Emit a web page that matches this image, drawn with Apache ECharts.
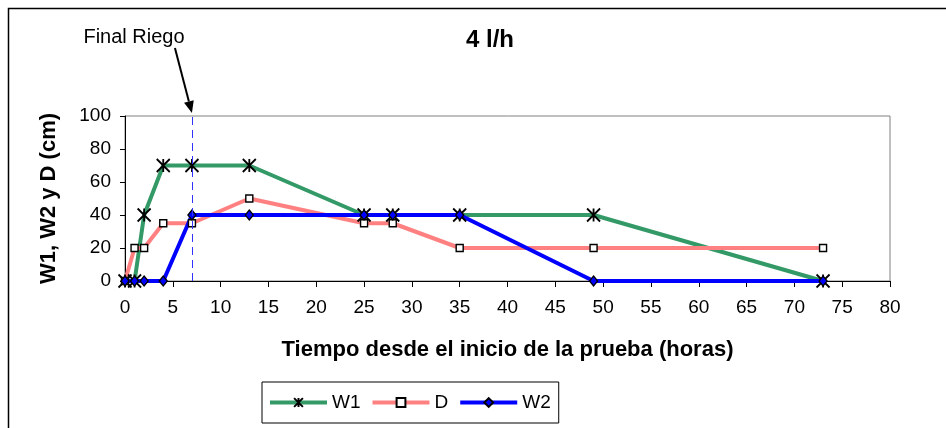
<!DOCTYPE html>
<html>
<head>
<meta charset="utf-8">
<script src="https://cdn.jsdelivr.net/npm/echarts@6/dist/echarts.min.js"></script>
<style>
  html, body { margin: 0; padding: 0; background: #fff; }
  #chart { width: 946px; height: 428px; }
</style>
</head>
<body>
<div id="chart"></div>
<script>
// Hours since the start of the test
const hours = [0, 1, 2, 4, 7, 13, 25, 28, 35, 49, 73];
// Measured values in cm
const w1 = [0, 0, 40, 70, 70, 70, 40, 40, 40, 40, 0];
const d  = [0, 20, 20, 35, 35, 50, 35, 35, 20, 20, 20];
const w2 = [0, 0, 0, 0, 40, 40, 40, 40, 40, 0, 0];
// End of irrigation (hours)
const irrigationEnd = 7;

const FONT = '"Liberation Sans", Arial, sans-serif';
const pairs = (ys) => hours.map((h, i) => [h, ys[i]]);

const starPath = 'path://M0,0L10,10M10,0L0,10M5,0L5,10';

const chart = echarts.init(document.getElementById('chart'), null, { renderer: 'canvas' });

const option = {
  animation: false,
  backgroundColor: '#ffffff',
  textStyle: { fontFamily: FONT, color: '#000' },
  title: {
    text: '4 l/h',
    left: 485,
    top: 23,
    textAlign: 'center',
    textStyle: { fontFamily: FONT, fontSize: 24, fontWeight: 'bold', color: '#000' }
  },
  grid: {
    left: 125, right: 56, top: 116, bottom: 147,
    show: true, borderColor: '#808080', borderWidth: 1, backgroundColor: '#fff'
  },
  legend: {
    left: 262, top: 382,
    orient: 'horizontal',
    padding: [11, 8, 11, 6],
    borderColor: '#000', borderWidth: 1,
    itemWidth: 57, itemHeight: 11, itemGap: 10,
    lineStyle: { width: 4 },
    textStyle: { fontFamily: FONT, fontSize: 19, color: '#000' },
    data: ['W1', 'D', 'W2']
  },
  xAxis: {
    type: 'value',
    min: 0, max: 80, interval: 5,
    name: 'Tiempo desde el inicio de la prueba (horas)',
    nameLocation: 'middle',
    nameGap: 58,
    nameTextStyle: { fontFamily: FONT, fontSize: 22, fontWeight: 'bold', color: '#000' },
    axisLine: { lineStyle: { color: '#000', width: 1 } },
    axisTick: { show: true, length: 6, lineStyle: { color: '#000' } },
    axisLabel: { fontFamily: FONT, fontSize: 19, color: '#000', margin: 17 },
    splitLine: { show: false }
  },
  yAxis: {
    type: 'value',
    min: 0, max: 100, interval: 20,
    name: 'W1, W2 y D (cm)',
    nameLocation: 'middle',
    nameGap: 65,
    nameTextStyle: { fontFamily: FONT, fontSize: 22, fontWeight: 'bold', color: '#000' },
    axisLine: { show: true, lineStyle: { color: '#000', width: 1 } },
    axisTick: { show: true, length: 5, lineStyle: { color: '#000' } },
    axisLabel: { fontFamily: FONT, fontSize: 19, color: '#000', margin: 14 },
    splitLine: { show: false }
  },
  series: [
    {
      name: 'W1', type: 'line', data: pairs(w1),
      lineStyle: { color: '#339966', width: 4 },
      itemStyle: { color: '#339966', borderColor: '#000', borderWidth: 1.8 },
      symbol: starPath, symbolSize: 13, showAllSymbol: true,
      emphasis: { disabled: true }
    },
    {
      name: 'D', type: 'line', data: pairs(d),
      lineStyle: { color: '#ff8080', width: 4 },
      itemStyle: { color: '#ffffff', borderColor: '#000', borderWidth: 1.4 },
      symbol: 'rect', symbolSize: 7, showAllSymbol: true,
      emphasis: { disabled: true }
    },
    {
      name: 'W2', type: 'line', data: pairs(w2),
      lineStyle: { color: '#0000ff', width: 4 },
      itemStyle: { color: '#0000ff', borderColor: '#000', borderWidth: 1.4 },
      symbol: 'diamond', symbolSize: [8, 10], showAllSymbol: true,
      emphasis: { disabled: true },
      markLine: {
        silent: true,
        symbol: ['none', 'none'],
        label: { show: false },
        lineStyle: { color: '#3333ff', type: [8, 5], width: 1 },
        data: [{ xAxis: irrigationEnd }]
      }
    }
  ]
};

chart.setOption(option);

// Outer frame, "Final Riego" annotation and its arrow pointing at the end of irrigation
const tip = chart.convertToPixel({ gridIndex: 0 }, [irrigationEnd, 100]);
const tipX = tip[0], tipY = tip[1] - 3;
const startX = tipX - 17, startY = tipY - 65;
const ang = Math.atan2(tipY - startY, tipX - startX);
const headLen = 12, headW = 5;
const bx = tipX - headLen * Math.cos(ang), by = tipY - headLen * Math.sin(ang);
const px = -Math.sin(ang) * headW, py = Math.cos(ang) * headW;

chart.setOption({
  graphic: [
    {
      type: 'rect', silent: true, z: 100,
      shape: { x: 8.5, y: 8.5, width: 1200, height: 1200 },
      style: { fill: 'none', stroke: '#000', lineWidth: 1.5 }
    },
    {
      type: 'text', silent: true, z: 100,
      x: 134, y: 47,
      style: {
        text: 'Final Riego', font: '20px ' + FONT, fill: '#000',
        align: 'center', verticalAlign: 'bottom'
      }
    },
    {
      type: 'line', silent: true, z: 100,
      shape: { x1: startX, y1: startY, x2: bx, y2: by },
      style: { stroke: '#000', lineWidth: 2 }
    },
    {
      type: 'polygon', silent: true, z: 100,
      shape: { points: [[tipX, tipY], [bx + px, by + py], [bx - px, by - py]] },
      style: { fill: '#000' }
    }
  ]
});
</script>
</body>
</html>
